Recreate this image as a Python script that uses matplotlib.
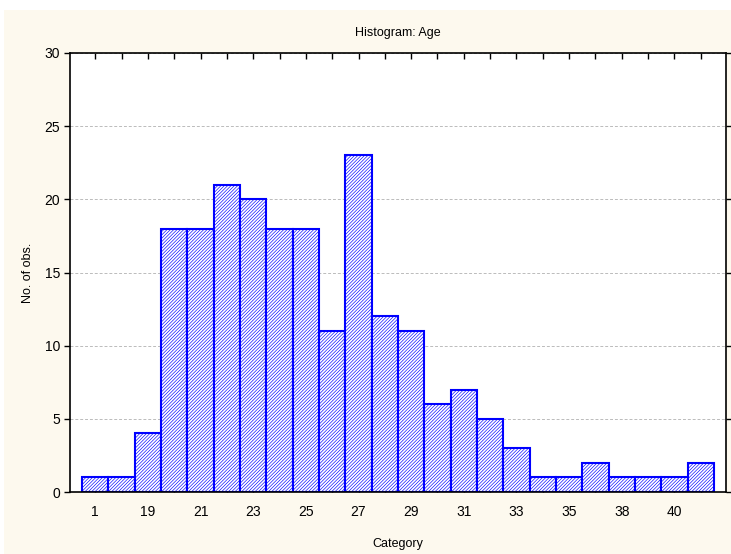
import numpy as np
import matplotlib.pyplot as plt
from matplotlib.patches import Rectangle

plt.rcParams['font.family'] = ['Liberation Sans', 'DejaVu Sans']
plt.rcParams['hatch.linewidth'] = 0.45

# Category labels (one per bar) and observed counts
categories = ['1', '18', '19', '20', '21', '22', '23', '24', '25', '26', '27', '28',
              '29', '30', '31', '32', '33', '34', '35', '36', '38', '39', '40', '41']
counts = [1, 1, 4, 18, 18, 21, 20, 18, 18, 11, 23, 12,
          11, 6, 7, 5, 3, 1, 1, 2, 1, 1, 1, 2]
yticks = [0, 5, 10, 15, 20, 25, 30]

fig = plt.figure(figsize=(7.31, 5.54), dpi=100, facecolor='white')
# cream panel behind the plot
fig.patches.append(Rectangle((4 / 731, 0), 1, 1 - 10 / 554, transform=fig.transFigure,
                             facecolor='#fdf9ee', edgecolor='none', zorder=-10))

ax = fig.add_axes([70 / 731, 62 / 554, 656 / 731, 439 / 554])
ax.set_zorder(1)
ax.set_facecolor('white')

x = np.arange(len(counts))
ax.bar(x, counts, width=1.0, facecolor='white', edgecolor='#0000ff',
       hatch='/' * 10, linewidth=1.5, zorder=3)

ax.set_xlim(-0.96, len(counts) - 0.04)
ax.set_ylim(0, 30)
ax.set_yticks(yticks)
ax.set_xticks(x)
ax.set_xticklabels([c if i % 2 == 0 else '' for i, c in enumerate(categories)])

ax.grid(axis='y', color='#bbbbbb', linestyle=(0, (3, 2)), linewidth=0.7, zorder=0)

ax.tick_params(axis='x', direction='in', top=True, length=4, width=1,
               labelsize=10, pad=9)
ax.tick_params(axis='y', direction='out', right=True, length=4, width=1,
               labelsize=10, pad=3)
for s in ax.spines.values():
    s.set_linewidth(1.2)
    s.set_zorder(4)

ax.set_title('Histogram: Age', fontsize=9, pad=12)
ax.set_xlabel('Category', fontsize=9, labelpad=14)
ax.set_ylabel('No. of obs.', fontsize=9, labelpad=8)

plt.savefig('out.png', dpi=100, facecolor=fig.get_facecolor())
